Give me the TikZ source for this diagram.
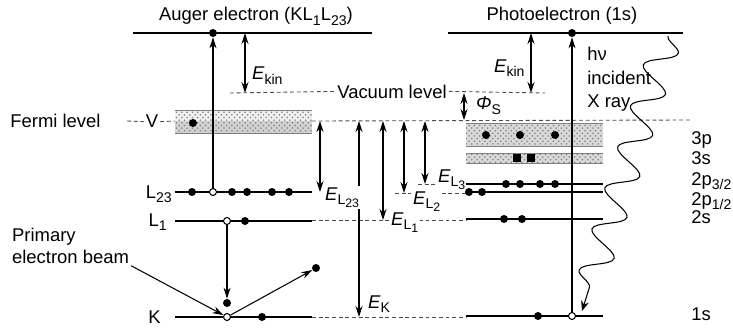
\documentclass[tikz,border=0pt]{standalone}
\usepackage{fontspec}
\setmainfont{Liberation Sans}
\usetikzlibrary{arrows.meta,decorations.pathmorphing,patterns}
\newcommand\lsub[1]{\raisebox{-2.3pt}{\fontsize{8}{9}\selectfont#1}}
\newcommand\llsub[1]{\raisebox{-1.8pt}{\fontsize{7}{8}\selectfont#1}}

\begin{document}
\begin{tikzpicture}[
  x=0.02cm, y=-0.02cm,
  font=\fontsize{10.5}{12.5}\selectfont,
  level/.style={line width=1.7pt},
  refline/.style={dash pattern=on 2.2pt off 1.6pt, line width=0.5pt, black!70},
  bandedge/.style={line width=0.5pt, gray},
  band/.style={pattern=crosshatch dots, pattern color=gray},
  elec/.style={circle, fill, inner sep=0pt, minimum size=0.16cm},
  hole/.style={circle, draw, fill=white, inner sep=0pt, minimum size=0.14cm, line width=0.6pt},
  sqelec/.style={rectangle, fill, inner sep=0pt, minimum size=0.15cm},
  arrow/.style={-{Stealth[length=2.2mm,width=1.4mm]}, line width=0.6pt},
  dbl/.style={{Stealth[length=2.2mm,width=1.4mm]}-{Stealth[length=2.2mm,width=1.4mm]}, line width=0.6pt},
  lbl/.style={inner sep=1pt, fill=white},
  xray/.style={-{Stealth[length=2mm,width=1.6mm]}, line width=0.6pt, decorate,
    decoration={snake, segment length=0.86cm, amplitude=0.3cm, post length=2.5mm}},
]
\useasboundingbox (0,0) rectangle (733,331);

% ===== Titles =====
\node[anchor=base] (augtitle) at (256,21) {Auger electron (KL\lsub{1}L\lsub{23})};
\node[anchor=base] (phtitle) at (562,21) {Photoelectron (1s)};

% ===== Vacuum and Fermi levels =====
\node[anchor=base, inner sep=1pt] (vac) at (392,98) {Vacuum level};
\coordinate (vacL) at (230,93);
\coordinate (vacR) at (545,93);
\draw[refline] (vacL) -- (vac.west);
\draw[refline] (vac.east) -- (vacR);

\node[anchor=base west, inner sep=0pt] (fermi) at (10,128) {Fermi level};
\node[anchor=base, inner sep=1pt] (vv) at (152,128) {V};
\coordinate (fermiL) at (127,121);
\coordinate (bandL) at (175,121);
\coordinate (bandR) at (312,121);
\coordinate (fermiR) at (692,120);
\draw[refline] (fermiL) -- (vv.west);
\draw[refline] (vv.east) -- (bandL);
\draw[refline] (bandR) -- (fermiR);

% ===== Dashed binding energy levels =====
\draw[refline] (312,220) -- (466,220);
\draw[refline] (395,193) -- (466,193);
\draw[refline] (418,184) -- (466,184);
\draw[refline] (312,317) -- (466,317);

% ===== Bands =====
\fill[gray!12] (175,110) rectangle (312,121);
\fill[gray!35] (175,121) rectangle (312,133);
\fill[band] (175,110) rectangle (312,133);
\draw[bandedge] (175,110) -- (312,110) (175,133) -- (312,133);

\fill[gray!30] (466,123) rectangle (603,146);
\fill[band] (466,123) rectangle (603,146);
\draw[bandedge] (466,123) -- (603,123) (466,146) -- (603,146);
\fill[gray!30] (466,153) rectangle (603,163);
\fill[band] (466,153) rectangle (603,163);
\draw[bandedge] (466,153) -- (603,153) (466,163) -- (603,163);

% ===== Left half: Auger process =====
\draw[level] (133,33) -- (372,33);
\draw[level] (175,192) -- (312,192);
\draw[level] (175,221) -- (312,221);
\draw[level] (175,317) -- (312,317);

\node[anchor=base east, inner sep=0pt] (lbl23) at (172,198) {L\lsub{23}};
\node[anchor=base east, inner sep=0pt] (lbl1) at (167,226) {L\lsub{1}};
\node[anchor=base east, inner sep=0pt] (lblk) at (161,323) {K};

\node[elec] (vb) at (193,123) {};
\foreach \x in {192,232,247,272,289}
  \node[elec] (l23-\x) at (\x,192) {};
\node[hole] (l23h) at (213,192) {};
\node[hole] (l1h) at (227,221) {};
\node[elec] (l1e) at (245,221) {};
\node[hole] (kh) at (227,317) {};
\node[elec] (ke) at (262,317) {};
\node[elec] (drop) at (227,303) {};
\node[elec] (sec) at (316,268) {};
\node[elec] (augtop) at (213,33) {};

\draw[arrow] (l23h) -- (augtop);
\draw[arrow] (l1h) -- (drop);
\draw[arrow] (kh) -- (sec);

\node[anchor=north west, align=left, inner sep=1pt] (beam) at (10,226) {Primary\\electron beam};
\draw[arrow] (beam.south east) -- (kh);

\coordinate (kinA) at (245,33);
\coordinate (kinB) at (245,93);
\draw[dbl] (kinA) -- (kinB);
\node[anchor=base west, inner sep=1pt] (ekinL) at (250,80) {\textit{E}\lsub{kin}};

% ===== Binding energies =====
\foreach \n/\x/\y in {L23/320/192, K/359/317, L1/383/220, L2/404/193, L3/425/184} {
  \coordinate (top\n) at (\x,121);
  \coordinate (bot\n) at (\x,\y);
  \draw[dbl] (top\n) -- (bot\n);
}
\node[lbl, anchor=base west] (eL23) at (323,200) {\textit{E}\lsub{L\llsub{23}}};
\node[lbl, anchor=base west] (eL3) at (436,182) {\textit{E}\lsub{L\llsub{3}}};
\node[lbl, anchor=base west] (eL2) at (411,204) {\textit{E}\lsub{L\llsub{2}}};
\node[lbl, anchor=base west] (eL1) at (389,225) {\textit{E}\lsub{L\llsub{1}}};
\node[lbl, anchor=base west] (eK) at (366,308) {\textit{E}\lsub{K}};

% ===== Right half: photoemission =====
\draw[level] (448,33) -- (683,33);
\draw[level] (466,184) -- (603,184);
\draw[level] (466,192) -- (603,192);
\draw[level] (466,219) -- (603,219);
\draw[level] (466,316) -- (603,316);

\foreach \x in {486,520,555}
  \node[elec] (p3-\x) at (\x,135) {};
\foreach \x in {517,531}
  \node[sqelec] (s3-\x) at (\x,158) {};
\foreach \x in {506,520,540,555}
  \node[elec] (p32-\x) at (\x,184) {};
\foreach \x in {469,482}
  \node[elec] (p12-\x) at (\x,192) {};
\foreach \x in {504,522}
  \node[elec] (s2-\x) at (\x,219) {};
\node[elec] (s1e) at (538,316) {};
\node[hole] (phh) at (572,316) {};
\node[elec] (phtop) at (572,33) {};

\draw[arrow] (phh) -- (phtop);

\coordinate (pkinA) at (531,33);
\coordinate (pkinB) at (531,93);
\draw[dbl] (pkinA) -- (pkinB);
\node[anchor=base west, inner sep=1pt] (ekinR) at (492,72) {\textit{E}\lsub{kin}};

\coordinate (phiA) at (464,93);
\coordinate (phiB) at (464,120);
\draw[dbl] (phiA) -- (phiB);
\node[anchor=base west, inner sep=1pt] (phis) at (474,110) {\textit{Φ}\lsub{S}};

\node[anchor=north west, align=left, inner sep=0pt, font=\fontsize{10.5}{13.3}\selectfont] (hnu) at (587,47) {hν\\incident\\X ray};

\coordinate (wtop) at (668,36);
\coordinate (wend) at (582,311);
\draw[xray] (wtop) -- (wend);

\node[anchor=base west, inner sep=0pt] (n3p) at (691,144) {3p};
\node[anchor=base west, inner sep=0pt] (n3s) at (691,164) {3s};
\node[anchor=base west, inner sep=0pt] (n2p32) at (691,185) {2p\lsub{3/2}};
\node[anchor=base west, inner sep=0pt] (n2p12) at (691,205) {2p\lsub{1/2}};
\node[anchor=base west, inner sep=0pt] (n2s) at (691,223) {2s};
\node[anchor=base west, inner sep=0pt] (n1s) at (691,320) {1s};

\end{tikzpicture}
\end{document}
